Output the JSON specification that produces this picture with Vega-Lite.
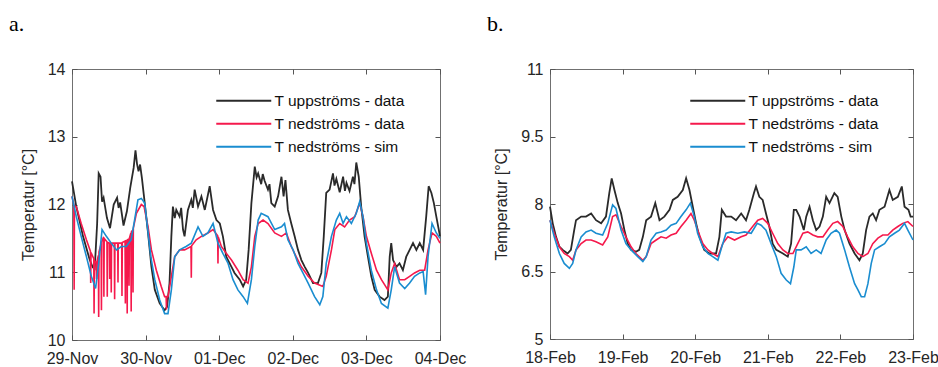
{
  "$schema": "https://vega.github.io/schema/vega-lite/v6.json",
  "bounds": "flush",
  "spacing": 110,
  "padding": {"left": 8, "top": 12, "right": 0, "bottom": 0},
  "config": {
    "font": "Liberation Sans",
    "view": {"stroke": "#707070", "strokeWidth": 1},
    "axis": {"grid": false, "domain": false, "labelFont": "Liberation Sans", "labelFontSize": 16, "labelColor": "#262626", "tickColor": "#555555", "tickSize": -5, "titleFont": "Liberation Sans", "titleFontSize": 16, "titleFontWeight": "normal", "titleColor": "#262626"},
    "title": {"font": "Liberation Serif", "fontSize": 22, "fontWeight": "normal", "anchor": "start", "frame": "group", "baseline": "alphabetic", "color": "#000000"},
    "legend": {"orient": "none", "title": null, "symbolType": "M-5,0H5", "symbolSize": 121, "symbolStrokeWidth": 2, "symbolFillColor": "transparent", "labelFont": "Liberation Sans", "labelFontSize": 15.5, "labelColor": "#111111", "labelOffset": 23, "padding": 0, "rowPadding": 6}
  },
  "resolve": {"scale": {"x": "independent", "y": "independent", "color": "independent"}, "legend": {"color": "independent"}},
  "datasets": {
    "a_up": [{"h":0,"t":12.34},{"h":1.4,"t":11.97},{"h":3.6,"t":11.53},{"h":5.8,"t":11.18},{"h":6.8,"t":11.07},{"h":7.4,"t":11.05},{"h":8.2,"t":11.72},{"h":8.7,"t":12.46},{"h":9.3,"t":12.41},{"h":9.8,"t":12.04},{"h":10.3,"t":12.1},{"h":11.4,"t":11.8},{"h":12.4,"t":11.65},{"h":13.6,"t":12.0},{"h":14.7,"t":12.1},{"h":15.2,"t":11.95},{"h":15.7,"t":12.03},{"h":16.8,"t":11.69},{"h":17.9,"t":11.9},{"h":19.0,"t":12.25},{"h":20.1,"t":12.54},{"h":20.7,"t":12.8},{"h":21.2,"t":12.6},{"h":21.7,"t":12.49},{"h":22.2,"t":12.59},{"h":22.8,"t":12.39},{"h":23.4,"t":12.15},{"h":24.8,"t":11.58},{"h":25.9,"t":11.08},{"h":27.0,"t":10.74},{"h":28.6,"t":10.54},{"h":30.2,"t":10.44},{"h":31.0,"t":10.49},{"h":31.8,"t":10.84},{"h":32.4,"t":11.53},{"h":32.9,"t":11.97},{"h":33.5,"t":11.8},{"h":34.0,"t":11.92},{"h":35.1,"t":11.82},{"h":35.6,"t":11.95},{"h":36.2,"t":11.63},{"h":36.7,"t":11.53},{"h":37.8,"t":11.92},{"h":38.9,"t":12.07},{"h":39.4,"t":11.95},{"h":40.0,"t":12.22},{"h":41.1,"t":11.97},{"h":42.2,"t":12.12},{"h":43.3,"t":11.92},{"h":44.9,"t":12.27},{"h":46.0,"t":11.92},{"h":47.1,"t":11.77},{"h":48.2,"t":11.72},{"h":49.2,"t":11.53},{"h":50.3,"t":11.23},{"h":52.0,"t":11.08},{"h":53.0,"t":10.99},{"h":54.7,"t":10.89},{"h":55.8,"t":10.79},{"h":56.8,"t":10.89},{"h":57.6,"t":11.33},{"h":58.5,"t":12.02},{"h":59.6,"t":12.56},{"h":60.2,"t":12.4},{"h":60.7,"t":12.46},{"h":61.7,"t":12.3},{"h":62.2,"t":12.45},{"h":62.8,"t":12.35},{"h":63.9,"t":12.22},{"h":64.4,"t":12.3},{"h":65.0,"t":12.02},{"h":66.1,"t":11.97},{"h":67.2,"t":12.12},{"h":68.3,"t":12.41},{"h":69.0,"t":12.12},{"h":69.6,"t":12.36},{"h":70.4,"t":11.92},{"h":71.5,"t":11.72},{"h":72.6,"t":11.53},{"h":73.7,"t":11.33},{"h":74.8,"t":11.18},{"h":75.9,"t":11.08},{"h":77.0,"t":10.99},{"h":78.6,"t":10.84},{"h":80.2,"t":10.84},{"h":81.3,"t":10.99},{"h":82.1,"t":11.53},{"h":82.9,"t":12.17},{"h":84.0,"t":12.22},{"h":85.1,"t":12.46},{"h":85.6,"t":12.28},{"h":86.2,"t":12.38},{"h":87.3,"t":12.18},{"h":88.4,"t":12.41},{"h":89.0,"t":12.2},{"h":89.5,"t":12.32},{"h":90.5,"t":12.2},{"h":91.6,"t":12.41},{"h":92.1,"t":12.3},{"h":92.7,"t":12.62},{"h":93.5,"t":12.41},{"h":94.3,"t":11.97},{"h":95.4,"t":11.53},{"h":96.5,"t":11.23},{"h":97.6,"t":10.94},{"h":98.7,"t":10.74},{"h":100.3,"t":10.64},{"h":101.9,"t":10.59},{"h":103.0,"t":10.64},{"h":103.6,"t":11.23},{"h":104.1,"t":11.43},{"h":104.7,"t":11.18},{"h":105.8,"t":11.08},{"h":106.8,"t":11.13},{"h":107.9,"t":11.03},{"h":109.0,"t":11.23},{"h":110.1,"t":11.33},{"h":111.2,"t":11.43},{"h":112.3,"t":11.33},{"h":113.4,"t":11.43},{"h":114.5,"t":11.33},{"h":115.5,"t":11.82},{"h":116.3,"t":12.27},{"h":117.2,"t":12.17},{"h":118.0,"t":12.02},{"h":118.8,"t":11.82},{"h":119.6,"t":11.63},{"h":120,"t":11.53}],
    "a_ned": [{"h":0,"t":12.12},{"h":0.6,"t":12.0},{"h":0.7,"t":10.74},{"h":0.8,"t":11.98},{"h":1.4,"t":11.97},{"h":3.0,"t":11.72},{"h":4.7,"t":11.48},{"h":6.0,"t":11.31},{"h":6.1,"t":10.84},{"h":6.2,"t":11.29},{"h":7.1,"t":11.2},{"h":7.2,"t":10.39},{"h":7.3,"t":11.18},{"h":7.9,"t":11.13},{"h":8.0,"t":10.9},{"h":8.1,"t":11.15},{"h":8.6,"t":11.25},{"h":8.7,"t":10.34},{"h":8.8,"t":11.3},{"h":9.5,"t":11.42},{"h":9.6,"t":10.44},{"h":9.7,"t":11.45},{"h":10.3,"t":11.52},{"h":10.4,"t":10.64},{"h":10.5,"t":11.5},{"h":11.4,"t":11.45},{"h":11.5,"t":10.64},{"h":11.6,"t":11.44},{"h":12.2,"t":11.43},{"h":12.3,"t":10.9},{"h":12.4,"t":11.43},{"h":12.7,"t":11.43},{"h":12.8,"t":10.7},{"h":12.9,"t":11.43},{"h":13.8,"t":11.43},{"h":13.9,"t":10.6},{"h":14.0,"t":11.43},{"h":14.9,"t":11.43},{"h":15.0,"t":10.85},{"h":15.1,"t":11.43},{"h":16.2,"t":11.43},{"h":16.3,"t":10.65},{"h":16.4,"t":11.44},{"h":17.3,"t":11.46},{"h":17.4,"t":10.54},{"h":17.5,"t":11.46},{"h":17.9,"t":11.47},{"h":18.0,"t":10.39},{"h":18.1,"t":11.48},{"h":18.5,"t":11.49},{"h":18.6,"t":10.8},{"h":18.7,"t":11.5},{"h":19.2,"t":11.58},{"h":19.3,"t":10.42},{"h":19.4,"t":11.6},{"h":19.8,"t":11.62},{"h":19.9,"t":10.7},{"h":20.0,"t":11.65},{"h":21.0,"t":11.87},{"h":22.6,"t":12.0},{"h":23.5,"t":11.97},{"h":24.8,"t":11.67},{"h":25.9,"t":11.33},{"h":27.5,"t":11.03},{"h":29.1,"t":10.79},{"h":30.2,"t":10.64},{"h":30.7,"t":10.64},{"h":30.8,"t":10.45},{"h":30.9,"t":10.64},{"h":31.3,"t":10.64},{"h":32.4,"t":10.94},{"h":33.5,"t":11.23},{"h":35.1,"t":11.33},{"h":36.7,"t":11.33},{"h":38.8,"t":11.38},{"h":38.9,"t":10.92},{"h":39.0,"t":11.39},{"h":40.5,"t":11.48},{"h":42.2,"t":11.53},{"h":44.3,"t":11.58},{"h":46.0,"t":11.63},{"h":47.5,"t":11.54},{"h":47.6,"t":11.13},{"h":47.7,"t":11.52},{"h":48.7,"t":11.38},{"h":50.3,"t":11.28},{"h":52.0,"t":11.18},{"h":54.1,"t":11.03},{"h":55.8,"t":10.89},{"h":57.4,"t":10.84},{"h":58.5,"t":11.08},{"h":59.6,"t":11.53},{"h":60.7,"t":11.72},{"h":62.3,"t":11.77},{"h":63.9,"t":11.72},{"h":66.1,"t":11.58},{"h":68.3,"t":11.53},{"h":69.9,"t":11.58},{"h":71.5,"t":11.38},{"h":73.1,"t":11.23},{"h":74.8,"t":11.08},{"h":77.0,"t":10.94},{"h":79.1,"t":10.84},{"h":81.8,"t":10.79},{"h":82.9,"t":10.94},{"h":84.6,"t":11.33},{"h":85.7,"t":11.63},{"h":87.3,"t":11.72},{"h":88.9,"t":11.67},{"h":90.5,"t":11.77},{"h":92.2,"t":11.82},{"h":93.8,"t":12.02},{"h":94.9,"t":11.82},{"h":96.0,"t":11.53},{"h":97.6,"t":11.28},{"h":99.3,"t":11.03},{"h":100.9,"t":10.89},{"h":103.0,"t":10.74},{"h":104.1,"t":10.99},{"h":105.2,"t":11.13},{"h":106.8,"t":10.89},{"h":108.5,"t":10.89},{"h":110.1,"t":10.94},{"h":111.7,"t":10.99},{"h":113.4,"t":11.03},{"h":115.0,"t":11.03},{"h":116.1,"t":11.33},{"h":117.4,"t":11.58},{"h":118.8,"t":11.53},{"h":120,"t":11.43}],
    "a_sim": [{"h":0,"t":12.12},{"h":1.4,"t":11.82},{"h":3.0,"t":11.53},{"h":4.7,"t":11.23},{"h":6.3,"t":10.94},{"h":7.7,"t":10.76},{"h":8.7,"t":11.13},{"h":9.8,"t":11.63},{"h":11.2,"t":11.53},{"h":12.8,"t":11.43},{"h":14.5,"t":11.33},{"h":16.1,"t":11.38},{"h":17.7,"t":11.38},{"h":19.3,"t":11.48},{"h":20.4,"t":11.77},{"h":21.5,"t":12.07},{"h":22.6,"t":12.09},{"h":23.7,"t":12.02},{"h":24.6,"t":11.67},{"h":25.7,"t":11.23},{"h":27.0,"t":10.89},{"h":28.6,"t":10.59},{"h":30.2,"t":10.39},{"h":31.3,"t":10.39},{"h":32.4,"t":10.74},{"h":33.5,"t":11.23},{"h":35.1,"t":11.33},{"h":37.2,"t":11.38},{"h":38.9,"t":11.43},{"h":41.1,"t":11.67},{"h":42.7,"t":11.53},{"h":44.3,"t":11.58},{"h":46.0,"t":11.72},{"h":47.6,"t":11.43},{"h":49.2,"t":11.28},{"h":50.9,"t":11.13},{"h":52.5,"t":10.89},{"h":54.1,"t":10.74},{"h":55.8,"t":10.64},{"h":57.2,"t":10.54},{"h":58.5,"t":10.89},{"h":59.6,"t":11.38},{"h":60.7,"t":11.77},{"h":61.7,"t":11.87},{"h":63.9,"t":11.82},{"h":66.1,"t":11.63},{"h":68.3,"t":11.67},{"h":69.3,"t":11.72},{"h":70.4,"t":11.48},{"h":72.1,"t":11.33},{"h":73.7,"t":11.13},{"h":75.3,"t":10.99},{"h":77.0,"t":10.84},{"h":79.1,"t":10.64},{"h":80.8,"t":10.52},{"h":81.8,"t":10.64},{"h":82.9,"t":11.13},{"h":84.6,"t":11.53},{"h":86.2,"t":11.77},{"h":87.3,"t":11.87},{"h":88.4,"t":11.72},{"h":89.5,"t":11.82},{"h":91.1,"t":11.72},{"h":92.7,"t":11.87},{"h":93.8,"t":12.04},{"h":94.9,"t":11.82},{"h":96.0,"t":11.43},{"h":97.6,"t":11.03},{"h":99.3,"t":10.74},{"h":100.9,"t":10.54},{"h":103.0,"t":10.47},{"h":104.1,"t":10.74},{"h":105.2,"t":11.08},{"h":106.8,"t":10.84},{"h":108.5,"t":10.76},{"h":110.1,"t":10.84},{"h":111.7,"t":10.94},{"h":113.4,"t":10.99},{"h":114.5,"t":11.01},{"h":115.3,"t":10.67},{"h":116.1,"t":11.23},{"h":117.4,"t":11.72},{"h":118.8,"t":11.58},{"h":120,"t":11.5}],
    "b_up": [{"h":0,"t":7.94},{"h":0.9,"t":7.57},{"h":2.0,"t":7.27},{"h":3.1,"t":7.05},{"h":4.2,"t":6.98},{"h":5.8,"t":6.9},{"h":6.9,"t":6.98},{"h":8.0,"t":7.42},{"h":8.6,"t":7.64},{"h":10.3,"t":7.72},{"h":11.9,"t":7.72},{"h":13.6,"t":7.79},{"h":15.2,"t":7.64},{"h":16.9,"t":7.57},{"h":18.5,"t":7.72},{"h":19.6,"t":8.24},{"h":20.4,"t":8.57},{"h":21.3,"t":8.31},{"h":22.4,"t":8.02},{"h":23.5,"t":7.79},{"h":24.6,"t":7.42},{"h":25.7,"t":7.12},{"h":26.8,"t":6.98},{"h":28.4,"t":6.94},{"h":29.5,"t":6.98},{"h":30.7,"t":7.27},{"h":31.8,"t":7.64},{"h":33.4,"t":7.72},{"h":34.8,"t":8.02},{"h":36.2,"t":7.64},{"h":37.8,"t":7.72},{"h":39.5,"t":7.87},{"h":40.6,"t":8.09},{"h":42.2,"t":8.16},{"h":43.9,"t":8.31},{"h":45.0,"t":8.57},{"h":46.1,"t":8.31},{"h":47.2,"t":7.94},{"h":48.3,"t":7.57},{"h":49.4,"t":7.27},{"h":51.0,"t":6.98},{"h":52.7,"t":6.9},{"h":54.9,"t":6.9},{"h":56.0,"t":7.27},{"h":56.8,"t":7.87},{"h":58.2,"t":7.72},{"h":59.9,"t":7.72},{"h":61.5,"t":7.64},{"h":63.2,"t":7.79},{"h":64.8,"t":7.64},{"h":65.9,"t":7.87},{"h":67.4,"t":8.24},{"h":68.1,"t":8.39},{"h":69.2,"t":8.16},{"h":70.3,"t":8.09},{"h":71.4,"t":7.79},{"h":72.5,"t":7.5},{"h":73.6,"t":7.12},{"h":74.8,"t":6.98},{"h":77.0,"t":6.9},{"h":78.6,"t":6.83},{"h":79.7,"t":7.12},{"h":80.6,"t":7.87},{"h":81.4,"t":7.87},{"h":82.5,"t":7.72},{"h":83.9,"t":7.42},{"h":84.7,"t":7.72},{"h":85.8,"t":7.94},{"h":86.9,"t":7.64},{"h":88.0,"t":7.42},{"h":89.1,"t":7.5},{"h":90.2,"t":7.72},{"h":91.3,"t":8.16},{"h":92.4,"t":8.02},{"h":94.0,"t":8.24},{"h":95.1,"t":8.16},{"h":96.3,"t":7.72},{"h":97.4,"t":7.42},{"h":99.0,"t":7.12},{"h":100.7,"t":6.9},{"h":102.3,"t":6.75},{"h":103.4,"t":6.9},{"h":104.5,"t":7.42},{"h":105.6,"t":7.72},{"h":106.7,"t":7.79},{"h":107.8,"t":7.64},{"h":108.9,"t":7.87},{"h":110.6,"t":7.94},{"h":112.2,"t":8.31},{"h":113.3,"t":8.09},{"h":115.0,"t":8.16},{"h":116.3,"t":8.39},{"h":117.2,"t":7.94},{"h":118.5,"t":7.87},{"h":119.2,"t":7.72},{"h":120,"t":7.72}],
    "b_ned": [{"h":0,"t":7.64},{"h":1.4,"t":7.35},{"h":3.1,"t":7.05},{"h":4.7,"t":6.9},{"h":6.4,"t":6.83},{"h":7.5,"t":6.75},{"h":8.6,"t":6.98},{"h":10.3,"t":7.12},{"h":11.9,"t":7.2},{"h":13.6,"t":7.2},{"h":15.2,"t":7.16},{"h":17.4,"t":7.09},{"h":19.1,"t":7.27},{"h":20.7,"t":7.72},{"h":21.8,"t":7.76},{"h":23.5,"t":7.5},{"h":25.1,"t":7.27},{"h":26.8,"t":7.05},{"h":28.4,"t":6.9},{"h":30.7,"t":6.75},{"h":31.8,"t":6.83},{"h":33.4,"t":7.12},{"h":35.1,"t":7.2},{"h":36.7,"t":7.27},{"h":38.4,"t":7.24},{"h":40.0,"t":7.31},{"h":41.7,"t":7.35},{"h":43.3,"t":7.5},{"h":45.0,"t":7.64},{"h":46.6,"t":7.79},{"h":47.7,"t":7.64},{"h":48.8,"t":7.42},{"h":50.5,"t":7.12},{"h":52.2,"t":6.98},{"h":53.8,"t":6.9},{"h":55.5,"t":6.83},{"h":57.1,"t":7.12},{"h":58.8,"t":7.27},{"h":61.0,"t":7.2},{"h":63.2,"t":7.27},{"h":64.8,"t":7.31},{"h":67.0,"t":7.5},{"h":68.7,"t":7.64},{"h":70.3,"t":7.68},{"h":72.0,"t":7.57},{"h":73.6,"t":7.35},{"h":75.3,"t":7.12},{"h":77.0,"t":6.98},{"h":78.6,"t":6.9},{"h":80.3,"t":6.9},{"h":81.9,"t":7.12},{"h":83.6,"t":7.35},{"h":85.2,"t":7.38},{"h":86.9,"t":7.31},{"h":88.5,"t":7.27},{"h":90.2,"t":7.27},{"h":91.8,"t":7.42},{"h":93.5,"t":7.57},{"h":95.1,"t":7.61},{"h":96.8,"t":7.5},{"h":98.4,"t":7.27},{"h":100.1,"t":7.05},{"h":101.8,"t":6.9},{"h":103.4,"t":6.83},{"h":105.1,"t":6.9},{"h":106.7,"t":7.12},{"h":108.4,"t":7.24},{"h":110.0,"t":7.31},{"h":111.7,"t":7.31},{"h":113.3,"t":7.42},{"h":115.0,"t":7.5},{"h":116.6,"t":7.57},{"h":118.3,"t":7.61},{"h":120,"t":7.5}],
    "b_sim": [{"h":0,"t":7.64},{"h":1.4,"t":7.27},{"h":3.1,"t":6.9},{"h":4.7,"t":6.68},{"h":6.4,"t":6.57},{"h":7.5,"t":6.68},{"h":8.6,"t":6.98},{"h":10.3,"t":7.27},{"h":11.9,"t":7.38},{"h":13.6,"t":7.42},{"h":15.2,"t":7.35},{"h":17.4,"t":7.31},{"h":19.1,"t":7.57},{"h":20.7,"t":7.98},{"h":21.8,"t":7.9},{"h":23.5,"t":7.42},{"h":25.1,"t":7.12},{"h":26.8,"t":6.98},{"h":29.0,"t":6.83},{"h":30.7,"t":6.72},{"h":31.8,"t":6.83},{"h":33.4,"t":7.2},{"h":35.1,"t":7.35},{"h":36.7,"t":7.38},{"h":38.4,"t":7.42},{"h":40.0,"t":7.53},{"h":41.7,"t":7.57},{"h":43.3,"t":7.72},{"h":45.0,"t":7.87},{"h":46.4,"t":8.02},{"h":47.7,"t":7.72},{"h":48.8,"t":7.35},{"h":50.5,"t":7.05},{"h":52.2,"t":6.9},{"h":53.8,"t":6.83},{"h":55.5,"t":6.75},{"h":56.8,"t":7.05},{"h":58.2,"t":7.35},{"h":59.9,"t":7.38},{"h":62.1,"t":7.35},{"h":64.3,"t":7.38},{"h":66.5,"t":7.35},{"h":68.5,"t":7.57},{"h":69.8,"t":7.53},{"h":71.4,"t":7.42},{"h":73.1,"t":7.12},{"h":74.8,"t":6.83},{"h":76.4,"t":6.46},{"h":78.1,"t":6.31},{"h":79.5,"t":6.23},{"h":80.6,"t":6.6},{"h":81.4,"t":6.98},{"h":83.0,"t":6.98},{"h":84.7,"t":7.05},{"h":86.3,"t":6.9},{"h":88.0,"t":6.98},{"h":89.6,"t":6.9},{"h":91.3,"t":7.2},{"h":92.9,"t":7.35},{"h":94.6,"t":7.42},{"h":95.7,"t":7.35},{"h":97.4,"t":6.98},{"h":99.0,"t":6.6},{"h":100.7,"t":6.23},{"h":101.8,"t":6.09},{"h":102.9,"t":5.94},{"h":104.0,"t":5.94},{"h":105.1,"t":6.23},{"h":106.2,"t":6.68},{"h":107.3,"t":6.98},{"h":108.9,"t":7.05},{"h":110.6,"t":7.12},{"h":112.2,"t":7.27},{"h":113.9,"t":7.35},{"h":115.5,"t":7.42},{"h":117.2,"t":7.57},{"h":118.3,"t":7.42},{"h":120,"t":7.2}]
  },
  "hconcat": [
    {
      "width": 368,
      "height": 271,
      "title": {"text": "a.", "dx": -63, "offset": 25},
      "resolve": {"axis": {"x": "independent", "y": "independent"}},
      "layer": [
        {
          "encoding": {
            "x": {"field": "h", "type": "quantitative", "scale": {"domain": [0, 120], "nice": false, "zero": false}, "axis": {"values": [0, 24, 48, 72, 96, 120], "labelExpr": "['29-Nov','30-Nov','01-Dec','02-Dec','03-Dec','04-Dec'][round(datum.value/24)]", "title": null, "labelPadding": 15, "labelFlush": false}},
            "y": {"field": "t", "type": "quantitative", "scale": {"domain": [10, 14], "nice": false, "zero": false}, "axis": {"values": [10, 11, 12, 13, 14], "title": "Temperatur [°C]", "labelPadding": 12, "titlePadding": 11}},
            "color": {"scale": {"domain": ["T uppströms - data", "T nedströms - data", "T nedströms - sim"], "range": ["#2a2a2a", "#f5194c", "#1a8dd0"]}, "legend": {"legendX": 164, "legendY": 24}}
          },
          "layer": [
            {"data": {"name": "a_up"}, "mark": {"type": "line", "strokeWidth": 1.8}, "encoding": {"color": {"datum": "T uppströms - data"}}},
            {"data": {"name": "a_ned"}, "mark": {"type": "line", "strokeWidth": 1.6}, "encoding": {"color": {"datum": "T nedströms - data"}}},
            {"data": {"name": "a_sim"}, "mark": {"type": "line", "strokeWidth": 1.6}, "encoding": {"color": {"datum": "T nedströms - sim"}}}
          ]
        },
        {
          "data": {"name": "a_up"},
          "mark": {"type": "line", "opacity": 0},
          "encoding": {
            "x": {"field": "h", "type": "quantitative", "axis": {"orient": "top", "values": [0, 24, 48, 72, 96, 120], "labels": false, "title": null}},
            "y": {"field": "t", "type": "quantitative", "axis": {"orient": "right", "values": [10, 11, 12, 13, 14], "labels": false, "title": null}}
          }
        }
      ]
    },
    {
      "width": 363,
      "height": 270,
      "title": {"text": "b.", "dx": -63, "offset": 25},
      "resolve": {"axis": {"x": "independent", "y": "independent"}},
      "layer": [
        {
          "encoding": {
            "x": {"field": "h", "type": "quantitative", "scale": {"domain": [0, 120], "nice": false, "zero": false}, "axis": {"values": [0, 24, 48, 72, 96, 120], "labelExpr": "['18-Feb','19-Feb','20-Feb','21-Feb','22-Feb','23-Feb'][round(datum.value/24)]", "title": null, "labelPadding": 15, "labelFlush": false}},
            "y": {"field": "t", "type": "quantitative", "scale": {"domain": [5, 11], "nice": false, "zero": false}, "axis": {"values": [5, 6.5, 8, 9.5, 11], "format": "~g", "title": "Temperatur [°C]", "labelPadding": 12, "titlePadding": 11}},
            "color": {"scale": {"domain": ["T uppströms - data", "T nedströms - data", "T nedströms - sim"], "range": ["#2a2a2a", "#f5194c", "#1a8dd0"]}, "legend": {"legendX": 160, "legendY": 24}}
          },
          "layer": [
            {"data": {"name": "b_up"}, "mark": {"type": "line", "strokeWidth": 1.8}, "encoding": {"color": {"datum": "T uppströms - data"}}},
            {"data": {"name": "b_ned"}, "mark": {"type": "line", "strokeWidth": 1.6}, "encoding": {"color": {"datum": "T nedströms - data"}}},
            {"data": {"name": "b_sim"}, "mark": {"type": "line", "strokeWidth": 1.6}, "encoding": {"color": {"datum": "T nedströms - sim"}}}
          ]
        },
        {
          "data": {"name": "b_up"},
          "mark": {"type": "line", "opacity": 0},
          "encoding": {
            "x": {"field": "h", "type": "quantitative", "axis": {"orient": "top", "values": [0, 24, 48, 72, 96, 120], "labels": false, "title": null}},
            "y": {"field": "t", "type": "quantitative", "axis": {"orient": "right", "values": [5, 6.5, 8, 9.5, 11], "labels": false, "title": null}}
          }
        }
      ]
    }
  ]
}
